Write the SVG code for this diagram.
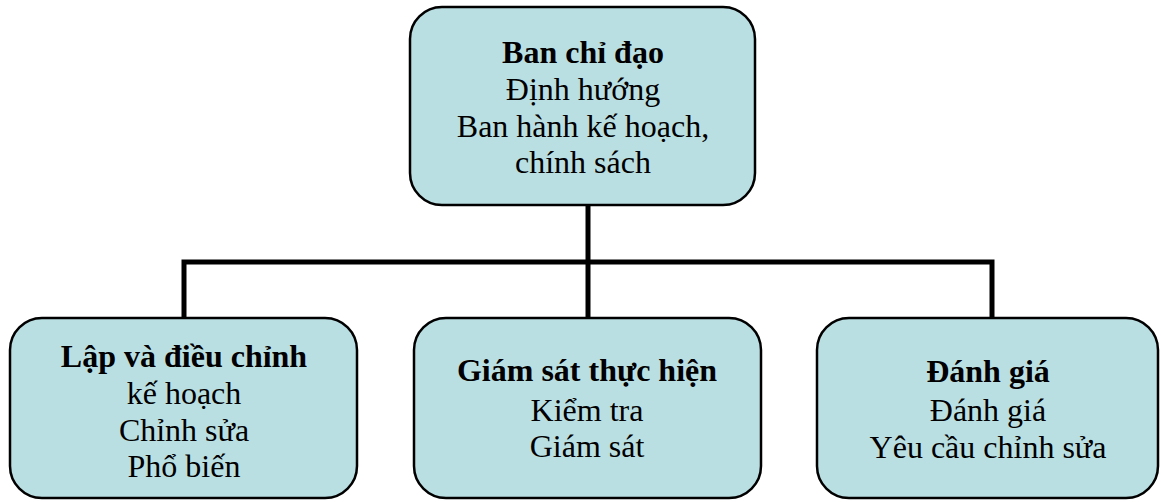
<svg xmlns="http://www.w3.org/2000/svg" width="1161" height="502" viewBox="0 0 1161 502">
<style>
.box{fill:#BADFE3;stroke:#000;stroke-width:2.5}
.conn{fill:none;stroke:#000;stroke-width:5;stroke-linejoin:miter;stroke-linecap:butt}
text{font-family:"Liberation Serif","Times New Roman",serif;font-size:32px;text-anchor:middle;fill:#000}
.b{font-weight:bold}
</style>
<rect width="1161" height="502" fill="#fff"/>
<g id="connectors">
<path class="conn" d="M588 205 V262"/>
<path class="conn" d="M184 319 V262 H992 V319"/>
<path class="conn" d="M588 262 V319"/>
</g>
<g id="node-top">
<rect class="box" x="410" y="7" width="345" height="198" rx="32"/>
<text x="583" y="63" class="b">Ban chỉ đạo</text>
<text x="583" y="100">Định hướng</text>
<text x="583" y="137">Ban hành kế hoạch,</text>
<text x="583" y="173">chính sách</text>
</g>
<g id="node-left">
<rect class="box" x="10" y="318" width="347" height="180" rx="32"/>
<text x="184" y="367" class="b">Lập và điều chỉnh</text>
<text x="184" y="404">kế hoạch</text>
<text x="184" y="441">Chỉnh sửa</text>
<text x="184" y="477">Phổ biến</text>
</g>
<g id="node-middle">
<rect class="box" x="414" y="318" width="347" height="180" rx="32"/>
<text x="587" y="381" class="b">Giám sát thực hiện</text>
<text x="587" y="421">Kiểm tra</text>
<text x="587" y="457">Giám sát</text>
</g>
<g id="node-right">
<rect class="box" x="817" y="318" width="341" height="180" rx="32"/>
<text x="988" y="382" class="b">Đánh giá</text>
<text x="988" y="421">Đánh giá</text>
<text x="988" y="458">Yêu cầu chỉnh sửa</text>
</g>
</svg>
